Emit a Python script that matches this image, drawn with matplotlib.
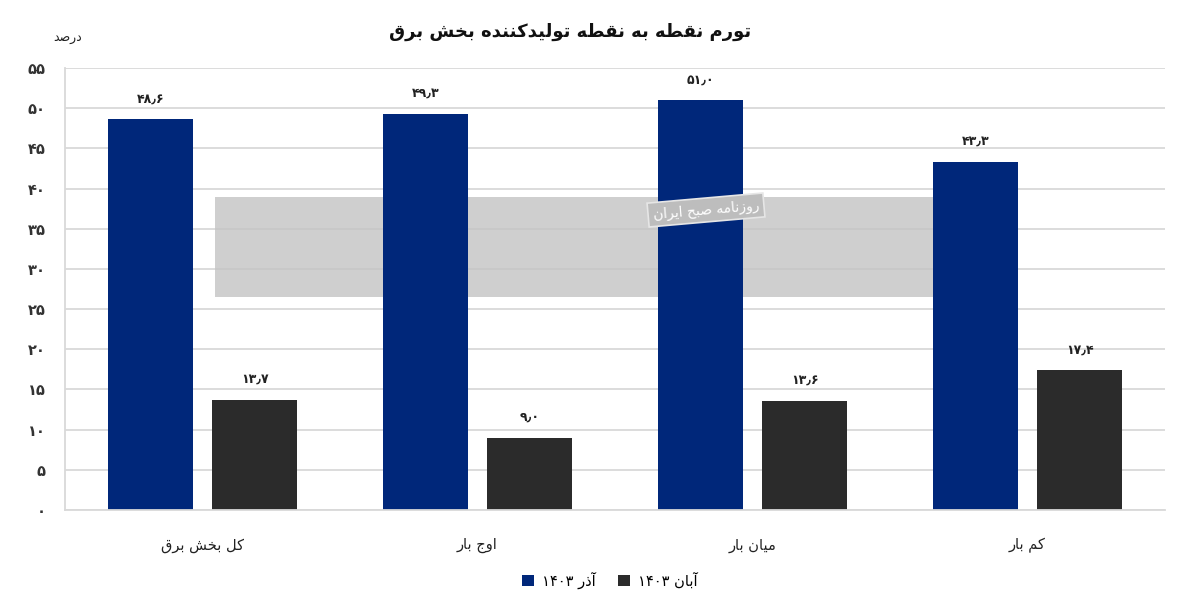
import matplotlib
matplotlib.use('Agg')
import matplotlib.pyplot as plt
import numpy as np
from matplotlib.patches import Rectangle

# ---------------- data ----------------
title = 'تورم نقطه به نقطه تولیدکننده بخش برق'
unit = 'درصد'
categories = ['کل بخش برق', 'اوج بار', 'میان بار', 'کم بار']
series_names = ['آذر ۱۴۰۳', 'آبان ۱۴۰۳']
azar_1403 = [48.6, 49.3, 51.0, 43.3]
aban_1403 = [13.7, 9.0, 13.6, 17.4]
y_ticks = [0, 5, 10, 15, 20, 25, 30, 35, 40, 45, 50, 55]
watermark_small = 'روزنامه صبح ایران'

# ---------------- Persian shaping helpers ----------------
FORMS = {
    '\u0622': ('\uFE81', '\uFE82', None, None),
    '\u0627': ('\uFE8D', '\uFE8E', None, None),
    '\u0628': ('\uFE8F', '\uFE90', '\uFE91', '\uFE92'),
    '\u067E': ('\uFB56', '\uFB57', '\uFB58', '\uFB59'),
    '\u062A': ('\uFE95', '\uFE96', '\uFE97', '\uFE98'),
    '\u062C': ('\uFE9D', '\uFE9E', '\uFE9F', '\uFEA0'),
    '\u062D': ('\uFEA1', '\uFEA2', '\uFEA3', '\uFEA4'),
    '\u062E': ('\uFEA5', '\uFEA6', '\uFEA7', '\uFEA8'),
    '\u062F': ('\uFEA9', '\uFEAA', None, None),
    '\u0630': ('\uFEAB', '\uFEAC', None, None),
    '\u0631': ('\uFEAD', '\uFEAE', None, None),
    '\u0632': ('\uFEAF', '\uFEB0', None, None),
    '\u0633': ('\uFEB1', '\uFEB2', '\uFEB3', '\uFEB4'),
    '\u0634': ('\uFEB5', '\uFEB6', '\uFEB7', '\uFEB8'),
    '\u0635': ('\uFEB9', '\uFEBA', '\uFEBB', '\uFEBC'),
    '\u0637': ('\uFEC1', '\uFEC2', '\uFEC3', '\uFEC4'),
    '\u0642': ('\uFED5', '\uFED6', '\uFED7', '\uFED8'),
    '\u0644': ('\uFEDD', '\uFEDE', '\uFEDF', '\uFEE0'),
    '\u0645': ('\uFEE1', '\uFEE2', '\uFEE3', '\uFEE4'),
    '\u0646': ('\uFEE5', '\uFEE6', '\uFEE7', '\uFEE8'),
    '\u0647': ('\uFEE9', '\uFEEA', '\uFEEB', '\uFEEC'),
    '\u0648': ('\uFEED', '\uFEEE', None, None),
    '\u06A9': ('\uFB8E', '\uFB8F', '\uFB90', '\uFB91'),
    '\u06CC': ('\uFBFC', '\uFBFD', '\uFBFE', '\uFBFF'),
}


def _dual(c):
    return c in FORMS and FORMS[c][2] is not None


def _joins(c):
    return c in FORMS


def shape(s):
    s = s.replace('\u064A', '\u06CC').replace('\u0643', '\u06A9')
    out = []
    for i, c in enumerate(s):
        if c not in FORMS:
            out.append(c)
            continue
        prev = s[i - 1] if i > 0 else ''
        nxt = s[i + 1] if i + 1 < len(s) else ''
        cp = _dual(prev)
        cn = _dual(c) and _joins(nxt)
        iso, fin, ini, med = FORMS[c]
        if cp and cn:
            out.append(med)
        elif cp:
            out.append(fin)
        elif cn:
            out.append(ini)
        else:
            out.append(iso)
    shaped = ''.join(out)
    # visual order (RTL paragraph, digit runs stay LTR)
    digits = set('۰۱۲۳۴۵۶۷۸۹0123456789٫.')
    runs = []
    for ch in shaped:
        isd = ch in digits
        if runs and runs[-1][0] == isd:
            runs[-1][1].append(ch)
        else:
            runs.append([isd, [ch]])
    vis = []
    for isd, chars in reversed(runs):
        vis.append(''.join(chars) if isd else ''.join(reversed(chars)))
    return ''.join(vis)


FA = str.maketrans('0123456789.', '۰۱۲۳۴۵۶۷۸۹٫')


def fa_num(v, fmt='{:.1f}'):
    return fmt.format(v).translate(FA)


# ---------------- plot ----------------
plt.rcParams['font.family'] = ['DejaVu Sans']
BLUE = '#00277a'
DARK = '#2b2b2b'
GRID = '#d9d9d9'

fig = plt.figure(figsize=(12, 6.12), dpi=100)
ax = fig.add_axes([65 / 1200, 1 - 510 / 612, 1100 / 1200, 442 / 612])

x = np.arange(len(categories))
w = 0.31
off = 0.19
b1 = ax.bar(x - off, azar_1403, width=w, color=BLUE, zorder=2,
            label=shape(series_names[0]))
b2 = ax.bar(x + off, aban_1403, width=w, color=DARK, zorder=2,
            label=shape(series_names[1]))

for bars, vals in ((b1, azar_1403), (b2, aban_1403)):
    for r, v in zip(bars, vals):
        ax.annotate(fa_num(v), (r.get_x() + r.get_width() / 2, v),
                    xytext=(0, 10), textcoords='offset points',
                    ha='center', va='bottom', fontsize=9,
                    fontweight='bold', color='#222222')

ax.set_xlim(-0.5, len(categories) - 0.5)
ax.set_ylim(0, 55)
ax.set_yticks(y_ticks)
ax.set_yticklabels([fa_num(t, '{:d}') for t in y_ticks], fontsize=10.5,
                   fontweight='bold', color='#333333')
ax.set_xticks(x)
ax.set_xticklabels([shape(c) for c in categories], fontsize=10.5,
                   color='#222222')
ax.tick_params(axis='y', length=0, pad=14)
ax.tick_params(axis='x', length=0, pad=20)
ax.grid(axis='y', color=GRID, linewidth=1.3)
ax.set_axisbelow(True)
for side in ('top', 'right'):
    ax.spines[side].set_visible(False)
ax.spines['left'].set_color(GRID)
ax.spines['left'].set_linewidth(1.3)
ax.spines['bottom'].set_color(GRID)
ax.spines['bottom'].set_linewidth(1.3)

# watermark band
ax.add_patch(Rectangle((215 / 1200, 1 - 297 / 612), 725 / 1200, 100 / 612,
                       transform=fig.transFigure, facecolor='#c4c4c4',
                       alpha=0.8, edgecolor='none', zorder=1.5))
fig.text(706 / 1200, 1 - 210 / 612, shape(watermark_small), fontsize=10,
         color='white', ha='center', va='center', rotation=5,
         bbox=dict(boxstyle='square,pad=0.35', facecolor='#bdbdbd',
                   edgecolor='#e6e6e6', linewidth=1.2))

# title and unit
fig.text(570 / 1200, 1 - 32 / 612, shape(title), fontsize=13,
         fontweight='bold', ha='center', va='center', color='#111111')
fig.text(68 / 1200, 1 - 38 / 612, shape(unit), fontsize=9,
         ha='center', va='center', color='#222222')

fig.legend(handles=[b1, b2], loc='center', ncol=2,
           bbox_to_anchor=(610 / 1200, 1 - 580 / 612), frameon=False,
           fontsize=10.5, handlelength=0.8, handleheight=0.8,
           columnspacing=1.5, handletextpad=0.6)

fig.savefig('out.png', dpi=100, facecolor='white')
